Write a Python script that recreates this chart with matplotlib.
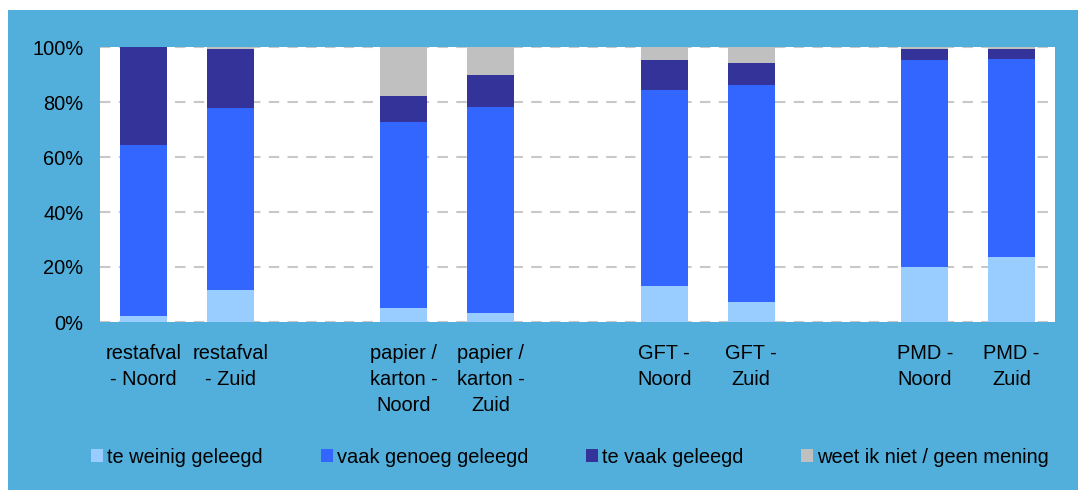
import matplotlib.pyplot as plt
import matplotlib.patches as mpatches
from matplotlib.ticker import PercentFormatter

plt.rcParams['font.family'] = ['Liberation Sans', 'DejaVu Sans']

# category labels, None = empty slot between groups
labels = ['restafval\n- Noord', 'restafval\n- Zuid', None,
          'papier /\nkarton -\nNoord', 'papier /\nkarton -\nZuid', None,
          'GFT -\nNoord', 'GFT -\nZuid', None,
          'PMD -\nNoord', 'PMD -\nZuid']

# percentages per bar (only real bars)
te_weinig = [2.3, 11.8, 5.2, 3.4, 13.2, 7.4, 20.1, 23.7]
vaak_genoeg = [62.1, 66.0, 67.6, 74.8, 71.2, 78.8, 75.2, 71.9]
te_vaak = [35.6, 21.5, 9.4, 11.6, 10.9, 8.0, 4.0, 3.7]
weet_niet = [0.0, 0.7, 17.8, 10.2, 4.7, 5.8, 0.7, 0.7]

series = [('te weinig geleegd', te_weinig, '#99CCFF'),
          ('vaak genoeg geleegd', vaak_genoeg, '#3366FF'),
          ('te vaak geleegd', te_vaak, '#333399'),
          ('weet ik niet / geen mening', weet_niet, '#C0C0C0')]

bg = '#52AFDC'
W, H = 1078, 490
fs = 14.4

fig = plt.figure(figsize=(W / 100, H / 100), dpi=100, facecolor='white')
fig.patches.append(mpatches.Rectangle((8 / W, 0), 1, (H - 10) / H,
                                      transform=fig.transFigure,
                                      facecolor=bg, edgecolor='none', zorder=-10))

ax = fig.add_axes([100 / W, (H - 322) / H, (1055 - 100) / W, (322 - 47) / H])
ax.set_facecolor('white')

pos = [i for i, l in enumerate(labels) if l is not None]
names = [l for l in labels if l is not None]

bottom = [0.0] * len(pos)
for name, vals, col in series:
    ax.bar(pos, vals, width=0.54, bottom=bottom, color=col, label=name, zorder=2)
    bottom = [b + v for b, v in zip(bottom, vals)]

ax.set_xlim(-0.5, len(labels) - 0.5)
ax.set_ylim(0, 100)
ax.set_yticks(range(0, 101, 20))
ax.yaxis.set_major_formatter(PercentFormatter(decimals=0))
ax.set_axisbelow(True)
ax.grid(axis='y', color='#C8C8C8', linestyle=(0, (5, 4)), linewidth=1.5, zorder=0)
for s in ax.spines.values():
    s.set_visible(False)

ax.set_xticks(pos)
ax.set_xticklabels(names, fontsize=fs, linespacing=1.45, va='top')
ax.tick_params(axis='x', length=0, pad=16)
ax.tick_params(axis='y', length=0, pad=12, labelsize=fs)

fig.legend(loc='center', bbox_to_anchor=(570 / W, 1 - 457 / H), ncol=4,
           frameon=False, fontsize=fs, handlelength=0.6, handleheight=0.6,
           handletextpad=0.2, columnspacing=2.9)

fig.savefig('out.png', dpi=100, facecolor=fig.get_facecolor())
